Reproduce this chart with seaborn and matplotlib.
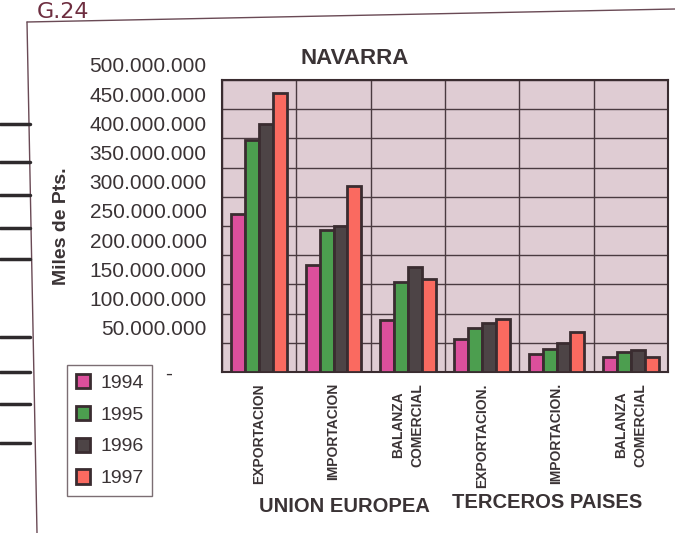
import matplotlib
matplotlib.use("Agg")
import matplotlib.pyplot as plt
import matplotlib.transforms as mtransforms
from matplotlib.lines import Line2D
import seaborn as sns
import pandas as pd
import numpy as np

# ---- data ----
categories = ["EXPORTACION", "IMPORTACION", "BALANZA\nCOMERCIAL",
              "EXPORTACION.", "IMPORTACION.", "BALANZA\nCOMERCIAL"]
years = ["1994", "1995", "1996", "1997"]
v1994 = [271e6, 184e6, 89e6, 56e6, 30e6, 25e6]
v1995 = [398e6, 244e6, 154e6, 76e6, 40e6, 35e6]
v1996 = [424e6, 250e6, 179e6, 84e6, 50e6, 38e6]
v1997 = [478e6, 319e6, 160e6, 91e6, 69e6, 26e6]
groups = ["UNION EUROPEA", "TERCEROS PAISES"]
ytick_values = [0, 50e6, 100e6, 150e6, 200e6, 250e6, 300e6, 350e6, 400e6, 450e6, 500e6]
ytick_labels = ["-", "50.000.000", "100.000.000", "150.000.000", "200.000.000",
                "250.000.000", "300.000.000", "350.000.000", "400.000.000",
                "450.000.000", "500.000.000"]

colors = ["#dc4f9c", "#4c9e4f", "#4d4446", "#fa6a60"]
edge = "#3a2c30"
text_c = "#3a3335"

rows = []
for yr, vals in zip(years, [v1994, v1995, v1996, v1997]):
    for i, v in enumerate(vals):
        rows.append({"key": f"c{i}", "year": yr, "value": v})
df = pd.DataFrame(rows)

sns.set_theme(style="white")
plt.rcParams["font.family"] = ["Liberation Sans", "DejaVu Sans"]

fig = plt.figure(figsize=(6.75, 5.33), dpi=100)
W, H = 675, 533
ax = fig.add_axes([222 / W, 1 - 372 / H, (668 - 222) / W, (372 - 80) / H])
ax.set_facecolor("#dfccd3")

sns.barplot(data=df, x="key", y="value", hue="year", palette=colors,
            width=0.75, gap=0, edgecolor=edge, linewidth=2.0, saturation=1,
            ax=ax, zorder=3)

ax.set_ylim(0, 500e6)
ax.set_xlim(-0.5, 5.5)
ax.set_yticks(ytick_values)
ax.set_yticklabels(ytick_labels, fontsize=15, color=text_c)
ax.set_xticks(range(len(categories)))
ax.set_xticklabels(categories, rotation=90, fontsize=10, fontweight="bold",
                   color=text_c, va="top", ha="center", multialignment="center",
                   linespacing=1.45)
ax.set_xticks(np.arange(-0.5, 6.0, 1.0), minor=True)
ax.tick_params(axis="x", which="major", length=0, pad=8)
ax.tick_params(axis="x", which="minor", length=5, width=1.2, color=edge, direction="out")
ax.tick_params(axis="y", which="major", length=5, width=1.2, color=edge, direction="out", pad=6)
ax.set_xlabel("")
ax.set_ylabel("")

ax.grid(False)
ax.yaxis.grid(True, color="#4a3a40", linewidth=1.0, zorder=1)
ax.xaxis.grid(True, which="minor", color="#4a3a40", linewidth=1.0, zorder=1)
ax.set_axisbelow(True)
for s in ax.spines.values():
    s.set_color(edge)
    s.set_linewidth(1.5)

# offset the y tick labels upward like the printed original
up = mtransforms.ScaledTranslation(0, 15 / 100, fig.dpi_scale_trans)
left = mtransforms.ScaledTranslation(-35 / 100, 0, fig.dpi_scale_trans)
for i, lab in enumerate(ax.get_yticklabels()):
    if i == 0:
        lab.set_transform(lab.get_transform() + left)
    else:
        lab.set_transform(lab.get_transform() + up)

# legend
handles, labels = ax.get_legend_handles_labels()
if ax.get_legend() is not None:
    ax.get_legend().remove()
leg = fig.legend(handles, labels, loc="upper left",
                 bbox_to_anchor=(67 / W, 1 - 365 / H), fontsize=14,
                 frameon=True, fancybox=False, handlelength=0.75,
                 handleheight=0.75, handletextpad=0.5, labelspacing=0.72,
                 borderpad=0.45, borderaxespad=0)
leg.get_frame().set_edgecolor("#5a4a50")
leg.get_frame().set_linewidth(1.0)
for t in leg.get_texts():
    t.set_color(text_c)

# titles and labels
fig.text(355 / W, 1 - 58 / H, "NAVARRA", fontsize=16, fontweight="bold",
         color=text_c, ha="center", va="center")
fig.text(62 / W, 1 - 226 / H, "Miles de Pts.", fontsize=14, fontweight="bold",
         color=text_c, rotation=90, ha="center", va="center")
fig.text(344 / W, 1 - 506 / H, groups[0], fontsize=14.5, fontweight="bold",
         color=text_c, ha="center", va="center")
fig.text(547 / W, 1 - 503 / H, groups[1], fontsize=14.5, fontweight="bold",
         color=text_c, ha="center", va="center")

# scanned page frame and handwritten note
fig.text(63 / W, 1 - 12 / H, "G.24", fontsize=16, color="#6e2e40",
         ha="center", va="center", family="DejaVu Sans")
fig.add_artist(Line2D([27 / W, 1.0], [1 - 22 / H, 1 - 9 / H],
                      transform=fig.transFigure, color="#6a4a55", lw=1.0))
fig.add_artist(Line2D([27 / W, 37 / W], [1 - 22 / H, 0],
                      transform=fig.transFigure, color="#6a4a55", lw=1.0))
for yy in [124, 162, 195, 228, 259, 337, 372, 404, 443]:
    fig.add_artist(Line2D([0, 30 / W], [1 - yy / H, 1 - yy / H],
                          transform=fig.transFigure, color="#2e2a2c", lw=2.5))

fig.savefig("out.png", dpi=100, facecolor="white")
